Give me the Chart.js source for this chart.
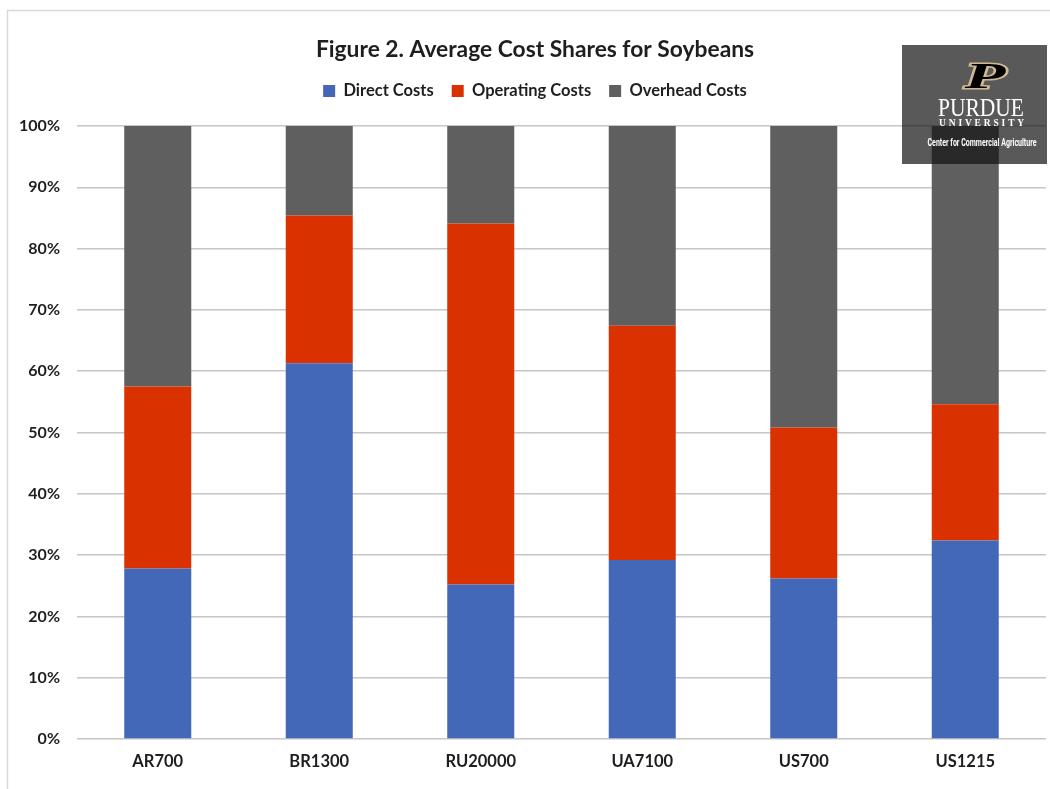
<!DOCTYPE html>
<html>
<head>
<meta charset="utf-8">
<script src="https://cdn.jsdelivr.net/npm/chart.js@4.4.1/dist/chart.umd.min.js"></script>
<style>
  html, body { margin: 0; padding: 0; background: #fff; }
  canvas { display: block; }
</style>
</head>
<body>
<canvas id="costChart" width="1050" height="789"></canvas>
<script>
// cost shares in percent
const regions = ['AR700', 'BR1300', 'RU20000', 'UA7100', 'US700', 'US1215'];
const directCosts = [27.8, 61.3, 25.2, 29.2, 26.2, 32.4];
const operatingCosts = [29.7, 24.1, 58.9, 38.2, 24.6, 22.2];
const overheadCosts = [42.5, 14.6, 15.9, 32.6, 49.2, 45.4];

const FONT = 'Lato, "Open Sans", sans-serif';
const TEXT = '#1e1e1e';

// light frame round the chart + purdue badge in the corner
const decor = {
  id: 'decor',
  beforeDraw(chart) {
    const ctx = chart.ctx;
    ctx.save();
    ctx.fillStyle = '#fff';
    ctx.fillRect(0, 0, chart.width, chart.height);
    ctx.strokeStyle = '#d9d9d9';
    ctx.lineWidth = 1.5;
    ctx.strokeRect(7.5, 10.5, 1200, 1000);
    ctx.restore();
  },
  afterDraw(chart) {
    const ctx = chart.ctx;
    ctx.save();
    ctx.fillStyle = 'rgba(19,19,19,0.7)';
    ctx.fillRect(902, 45, 145, 119);

    // the P
    ctx.save();
    ctx.translate(985, 78);
    ctx.scale(1.85, 1);
    ctx.font = 'italic bold 36px "Liberation Serif", serif';
    ctx.textAlign = 'center';
    ctx.textBaseline = 'middle';
    ctx.lineWidth = 3;
    ctx.strokeStyle = '#cfb991';
    ctx.strokeText('P', 0, 1);
    ctx.fillStyle = '#000';
    ctx.fillText('P', 0, 1);
    ctx.restore();

    ctx.fillStyle = '#fff';
    ctx.textAlign = 'center';
    ctx.textBaseline = 'alphabetic';
    ctx.font = '25px "Liberation Serif", serif';
    ctx.fillText('PURDUE', 981, 116, 86);
    ctx.font = 'bold 10px "Liberation Serif", serif';
    ctx.letterSpacing = '3px';
    ctx.fillText('UNIVERSITY', 983, 126, 88);
    ctx.letterSpacing = '0px';
    ctx.font = 'bold 10px "Roboto", "Liberation Sans Narrow", sans-serif';
    ctx.fillText('Center for Commercial Agriculture', 982, 146, 109);
    ctx.restore();
  }
};

// push the plot area top down to where the gridline for 100% sits,
// and centre title + legend over the plot rather than the whole canvas
const legendGap = {
  id: 'legendGap',
  beforeInit(chart) {
    const fit = chart.legend.fit;
    chart.legend.fit = function () {
      fit.bind(chart.legend)();
      this.height += 16.75;
    };
  },
  afterLayout(chart) {
    chart.titleBlock.left += 24;
    chart.legend.left += 24;
  }
};

new Chart(document.getElementById('costChart').getContext('2d'), {
  type: 'bar',
  data: {
    labels: regions,
    datasets: [
      { label: 'Direct Costs', data: directCosts, backgroundColor: '#4468b8' },
      { label: 'Operating Costs', data: operatingCosts, backgroundColor: '#d93100' },
      { label: 'Overhead Costs', data: overheadCosts, backgroundColor: '#5f5f5f' }
    ]
  },
  options: {
    responsive: false,
    animation: false,
    devicePixelRatio: 1,
    layout: { padding: { left: 0, right: 4, top: 0, bottom: 0 } },
    datasets: { bar: { barPercentage: 0.415, categoryPercentage: 1 } },
    plugins: {
      title: {
        display: true,
        text: 'Figure 2. Average Cost Shares for Soybeans',
        color: TEXT,
        font: { family: FONT, size: 22.8, weight: 'bold' },
        padding: { top: 36.3, bottom: 1.1 }
      },
      legend: {
        display: true,
        labels: {
          color: TEXT,
          font: { family: FONT, size: 16.5, weight: 'bold' },
          boxWidth: 12,
          boxHeight: 12,
          padding: 18
        }
      },
      tooltip: { enabled: false }
    },
    scales: {
      x: {
        stacked: true,
        grid: { display: false, drawTicks: false },
        border: { display: false },
        ticks: { color: TEXT, font: { family: FONT, size: 16.5, weight: 'bold' }, padding: 13 },
        afterFit(scale) { scale.height = 50; }
      },
      y: {
        stacked: true,
        min: 0,
        max: 100,
        border: { display: false },
        grid: { color: '#c6c6c6', lineWidth: 1.5, drawTicks: false },
        ticks: {
          stepSize: 10,
          padding: 17,
          color: TEXT,
          font: { family: FONT, size: 16, weight: 'bold' },
          callback: v => v + '%'
        },
        afterFit(scale) { scale.width = 77; }
      }
    }
  },
  plugins: [decor, legendGap]
});
</script>
</body>
</html>
